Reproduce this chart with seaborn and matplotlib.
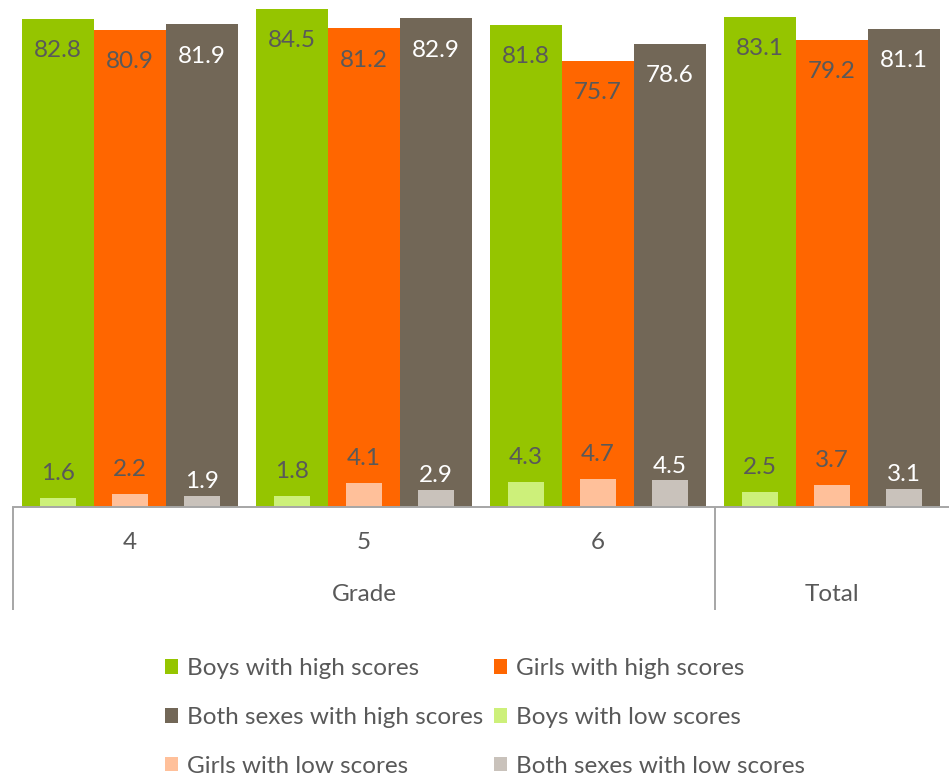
import matplotlib
matplotlib.use("Agg")
import matplotlib.pyplot as plt
import matplotlib.transforms as mtransforms
from matplotlib.patches import Patch
import pandas as pd
import seaborn as sns

# Share of pupils with high / low scores by grade
grades = ["4", "5", "6", "Total"]
boys_high = [82.8, 84.5, 81.8, 83.1]
girls_high = [80.9, 81.2, 75.7, 79.2]
both_high = [81.9, 82.9, 78.6, 81.1]
boys_low = [1.6, 1.8, 4.3, 2.5]
girls_low = [2.2, 4.1, 4.7, 3.7]
both_low = [1.9, 2.9, 4.5, 3.1]

high_names = ["Boys with high scores", "Girls with high scores",
              "Both sexes with high scores"]
low_names = ["Boys with low scores", "Girls with low scores",
             "Both sexes with low scores"]
high_colors = ["#95C500", "#FF6600", "#726757"]
low_colors = ["#CDF07A", "#FFC09A", "#C9C2BB"]
text_color = "#595959"
line_color = "#A6A6A6"

sns.set_style("white")
plt.rcParams["font.family"] = ["Lato", "DejaVu Sans"]
FS = 17.5


def long_table(names, series):
    rows = []
    for name, vals in zip(names, series):
        for g, v in zip(grades, vals):
            rows.append({"grade": g, "series": name, "value": v})
    return pd.DataFrame(rows)


high_df = long_table(high_names, [boys_high, girls_high, both_high])
low_df = long_table(low_names, [boys_low, girls_low, both_low])

W, H = 949, 776
fig = plt.figure(figsize=(W / 100, H / 100), dpi=100)
ax_left, ax_right, ax_top, ax_bottom = 13, 949, 0, 507
ax = fig.add_axes([ax_left / W, 1 - ax_bottom / H,
                   (ax_right - ax_left) / W, (ax_bottom - ax_top) / H])

group_width = 216 / 234
sns.barplot(data=high_df, x="grade", y="value", hue="series",
            order=grades, hue_order=high_names, palette=high_colors,
            saturation=1, width=group_width, gap=0, errorbar=None,
            legend=False, linewidth=0, ax=ax)
sns.barplot(data=low_df, x="grade", y="value", hue="series",
            order=grades, hue_order=low_names, palette=low_colors,
            saturation=1, width=group_width, gap=0.5, errorbar=None,
            legend=False, linewidth=0, ax=ax)

ax.set_xlim(-0.5, len(grades) - 0.5)
ax.set_ylim(0, 86)
ax.set_xlabel("")
ax.set_ylabel("")
ax.set_yticks([])
ax.tick_params(bottom=False, labelbottom=False)
for side in ["left", "top", "right"]:
    ax.spines[side].set_visible(False)
ax.spines["bottom"].set_color(line_color)
ax.spines["bottom"].set_linewidth(1.4)

# Value labels
for i, cont in enumerate(ax.containers[:3]):
    col = "white" if i == 2 else text_color
    for p in cont.patches:
        ax.annotate(f"{p.get_height():.1f}",
                    (p.get_x() + p.get_width() / 2, p.get_height()),
                    xytext=(0, -27.6), textcoords="offset points",
                    ha="center", va="baseline", color=col, fontsize=FS)
for i, cont in enumerate(ax.containers[3:6]):
    col = "white" if i == 2 else text_color
    off = 5.5 if i == 2 else 13
    for p in cont.patches:
        ax.annotate(f"{p.get_height():.1f}",
                    (p.get_x() + p.get_width() / 2, p.get_height()),
                    xytext=(0, off), textcoords="offset points",
                    ha="center", va="baseline", color=col, fontsize=FS)

# Two-level category axis
trans = mtransforms.blended_transform_factory(ax.transData, ax.transAxes)
h_ax = ax_bottom - ax_top
y_row1 = (ax_bottom - 549) / h_ax
y_row2 = (ax_bottom - 601) / h_ax
y_end = (ax_bottom - 610) / h_ax
for k, g in enumerate(grades[:3]):
    ax.text(k, y_row1, g, transform=trans, ha="center", va="baseline",
            color=text_color, fontsize=FS)
ax.text(1, y_row2, "Grade", transform=trans, ha="center", va="baseline",
        color=text_color, fontsize=FS)
ax.text(3, y_row2, "Total", transform=trans, ha="center", va="baseline",
        color=text_color, fontsize=FS)
for xs in (-0.5, 2.5):
    ax.plot([xs, xs], [0, y_end], transform=trans, color=line_color,
            lw=1.4, clip_on=False, solid_capstyle="butt")

# Legend, filled row by row
handles = [Patch(facecolor=c, edgecolor="none", label=n)
           for n, c in zip(high_names + low_names, high_colors + low_colors)]
order = [0, 2, 4, 1, 3, 5]
fig.legend([handles[i] for i in order],
           [handles[i].get_label() for i in order],
           ncol=2, loc="upper left",
           bbox_to_anchor=(165 / W, 1 - 658 / H),
           bbox_transform=fig.transFigure,
           frameon=False, fontsize=FS, labelcolor=text_color,
           handlelength=0.53, handleheight=0.53, handletextpad=0.37,
           columnspacing=0.45, labelspacing=1.15, borderpad=0,
           borderaxespad=0)

fig.savefig("out.png", dpi=100, facecolor="white")
